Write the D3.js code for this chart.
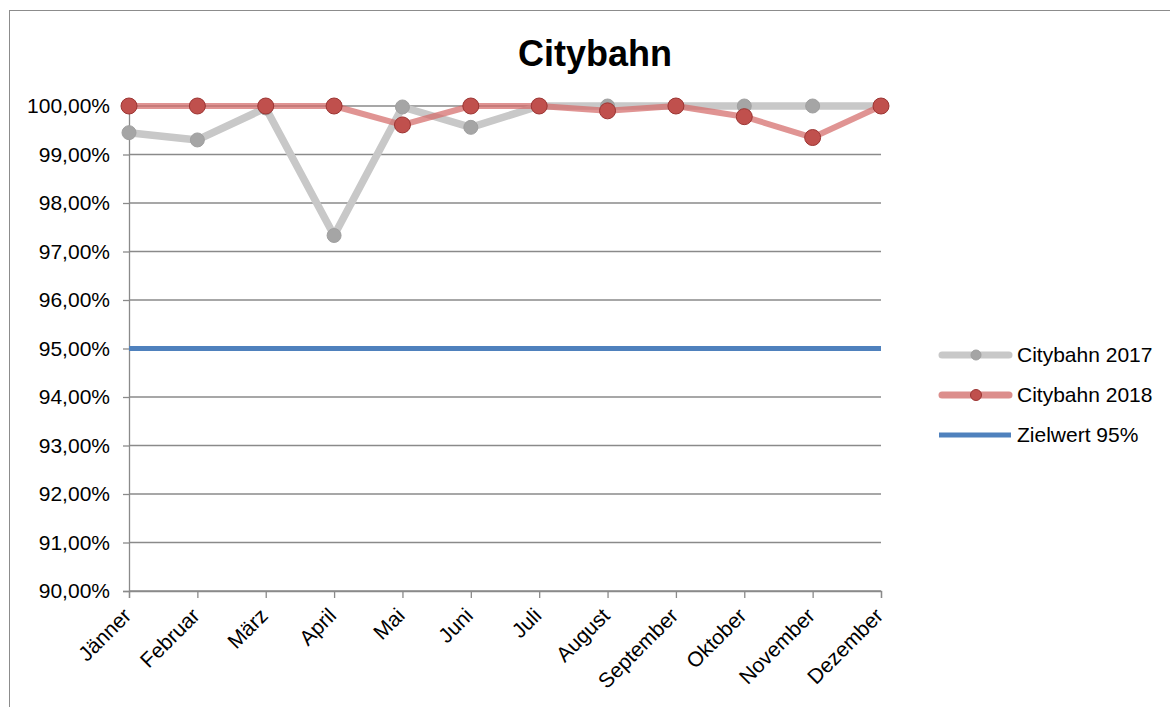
<!DOCTYPE html>
<html>
<head>
<meta charset="utf-8">
<script src="https://cdn.jsdelivr.net/npm/d3@7/dist/d3.min.js"></script>
<style>
  html, body { margin: 0; padding: 0; background: #fff; }
  svg { display: block; font-family: Arial, "Liberation Sans", sans-serif; }
</style>
</head>
<body>
<svg id="chart" width="1170" height="707"></svg>
<script>
// Monthly punctuality of the Citybahn, in percent
const months = ["Jänner", "Februar", "März", "April", "Mai", "Juni", "Juli",
                "August", "September", "Oktober", "November", "Dezember"];
const values2017 = [99.45, 99.30, 99.96, 97.33, 99.98, 99.56, 100, 100, 100, 100, 100, 100];
const values2018 = [100, 100, 100, 100, 99.61, 100, 100, 99.90, 100, 99.78, 99.35, 100];
const targetValue = 95;
const yTicks = [90, 91, 92, 93, 94, 95, 96, 97, 98, 99, 100];
const seriesNames = ["Citybahn 2017", "Citybahn 2018", "Zielwert 95%"];

const FONT = "Arial, 'Liberation Sans', sans-serif";
const svg = d3.select("#chart");
const plot = { left: 129, right: 881, top: 106, bottom: 591 };

// outer chart frame
svg.append("rect")
  .attr("x", 9.5).attr("y", 10.5).attr("width", 1200).attr("height", 800)
  .attr("fill", "none").attr("stroke", "#8c8c8c").attr("stroke-width", 1);

svg.append("text")
  .attr("x", 595).attr("y", 66)
  .attr("text-anchor", "middle")
  .attr("font-size", 36).attr("font-weight", "bold")
  .text("Citybahn");

const x = d3.scalePoint().domain(months).range([plot.left, plot.right]);
const y = d3.scaleLinear().domain([90, 100]).range([plot.bottom, plot.top]);

// horizontal gridlines
svg.append("g").selectAll("line").data(yTicks).join("line")
  .attr("x1", plot.left).attr("x2", plot.right)
  .attr("y1", d => y(d)).attr("y2", d => y(d))
  .attr("stroke", "#8a8a8a").attr("stroke-width", 1.3);

// y axis
const fmt = d => d3.format(".2f")(d).replace(".", ",") + "%";
const yAxis = svg.append("g")
  .attr("transform", `translate(${plot.left},0)`)
  .call(d3.axisLeft(y).tickValues(yTicks).tickFormat(fmt).tickSize(6).tickPadding(13));
yAxis.select(".domain").attr("stroke", "#8a8a8a").attr("stroke-width", 1.3);
yAxis.selectAll(".tick line").attr("stroke", "#8a8a8a").attr("stroke-width", 1.3);
yAxis.selectAll(".tick text").attr("font-size", 21).attr("fill", "#000")
  .attr("font-family", FONT);

// x axis
const xAxis = svg.append("g")
  .attr("transform", `translate(0,${plot.bottom})`)
  .call(d3.axisBottom(x).tickSize(7));
xAxis.select(".domain").attr("stroke", "#8a8a8a").attr("stroke-width", 1.3);
xAxis.selectAll(".tick line").attr("stroke", "#8a8a8a").attr("stroke-width", 1.3);
xAxis.selectAll(".tick text")
  .attr("font-size", 21).attr("fill", "#000")
  .attr("font-family", FONT)
  .attr("text-anchor", "end")
  .attr("x", 0).attr("y", 0).attr("dy", 0)
  .attr("transform", "translate(3,26) rotate(-45)");

// target line
svg.append("line")
  .attr("x1", plot.left).attr("x2", plot.right)
  .attr("y1", y(targetValue)).attr("y2", y(targetValue))
  .attr("stroke", "#4f81bd").attr("stroke-width", 5);

const line = d3.line().x((d, i) => x(months[i])).y(d => y(d));

// 2017 series
svg.append("path").datum(values2017)
  .attr("d", line).attr("fill", "none")
  .attr("stroke", "#c8c8c8").attr("stroke-width", 7.5).attr("stroke-linejoin", "round");
svg.append("g").selectAll("circle").data(values2017).join("circle")
  .attr("cx", (d, i) => x(months[i])).attr("cy", d => y(d)).attr("r", 7)
  .attr("fill", "#a5a5a5").attr("stroke", "#a0a0a0").attr("stroke-width", 1);

// 2018 series
svg.append("path").datum(values2018)
  .attr("d", line).attr("fill", "none")
  .attr("stroke", "#d46b69").attr("stroke-opacity", 0.72).attr("stroke-width", 6)
  .attr("stroke-linejoin", "round");
svg.append("g").selectAll("circle").data(values2018).join("circle")
  .attr("cx", (d, i) => x(months[i])).attr("cy", d => y(d)).attr("r", 8)
  .attr("fill", "#c0504d").attr("stroke", "#9c3533").attr("stroke-width", 1);

// legend
const legend = svg.append("g");
const legendRows = [
  { name: seriesNames[0], stroke: "#c8c8c8", width: 7, marker: "#a5a5a5", mstroke: "#a0a0a0", r: 5 },
  { name: seriesNames[1], stroke: "#dc8e8c", width: 7, marker: "#c0504d", mstroke: "#9c3533", r: 5.5 },
  { name: seriesNames[2], stroke: "#4f81bd", width: 5, marker: null }
];
legendRows.forEach((row, i) => {
  const ly = 355 + i * 40;
  legend.append("line")
    .attr("x1", row.marker ? 942 : 939).attr("x2", row.marker ? 1009 : 1011)
    .attr("y1", ly).attr("y2", ly)
    .attr("stroke", row.stroke).attr("stroke-width", row.width)
    .attr("stroke-linecap", row.marker ? "round" : "butt");
  if (row.marker) {
    legend.append("circle").attr("cx", 976).attr("cy", ly).attr("r", row.r)
      .attr("fill", row.marker).attr("stroke", row.mstroke).attr("stroke-width", 1);
  }
  legend.append("text")
    .attr("x", 1017).attr("y", ly).attr("dy", "0.35em")
    .attr("font-size", 21).attr("fill", "#000")
    .text(row.name);
});
</script>
</body>
</html>
